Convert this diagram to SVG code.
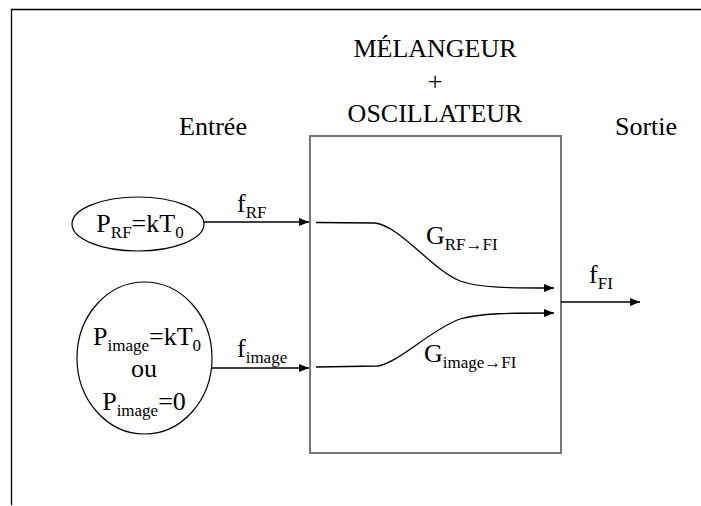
<svg xmlns="http://www.w3.org/2000/svg" width="701" height="506" viewBox="0 0 701 506">
<style>
text{font-family:"Liberation Serif","Times New Roman",serif;font-size:26px;fill:#000}
.sub{font-size:17px}
.ln{stroke:#000;stroke-width:1.3;fill:none}
.box{stroke:#777;stroke-width:2;fill:none}
.el{stroke:#000;stroke-width:1.2;fill:none}
</style>
<defs>
<marker id="ah" markerUnits="userSpaceOnUse" markerWidth="12" markerHeight="10" refX="10" refY="4" orient="auto">
<path d="M0,0 L10,4 L0,8 z" fill="#000"/>
</marker>
</defs>
<g id="frame">
<path d="M11.5,505 L11.5,9.5 L701,9.5" stroke="#000" stroke-width="1.3" fill="none"/>
</g>
<g id="titles">
<text x="435" y="57" text-anchor="middle">MÉLANGEUR</text>
<text x="435" y="90" text-anchor="middle">+</text>
<text x="435" y="122" text-anchor="middle">OSCILLATEUR</text>
<text x="213" y="135" text-anchor="middle">Entrée</text>
<text x="646" y="135" text-anchor="middle">Sortie</text>
</g>
<g id="mixer">
<rect class="box" x="310" y="136" width="251" height="317"/>
</g>
<g id="src-rf">
<ellipse class="el" cx="138" cy="224" rx="66" ry="27"/>
<text x="140" y="232" text-anchor="middle">P<tspan class="sub" dy="6">RF</tspan><tspan dy="-6">=kT</tspan><tspan class="sub" dy="6">0</tspan></text>
</g>
<g id="src-image">
<ellipse class="el" cx="144.5" cy="358" rx="67.5" ry="76"/>
<text x="147" y="345" text-anchor="middle">P<tspan class="sub" dy="6">image</tspan><tspan dy="-6">=kT</tspan><tspan class="sub" dy="6">0</tspan></text>
<text x="144" y="377" text-anchor="middle">ou</text>
<text x="144" y="410" text-anchor="middle">P<tspan class="sub" dy="6">image</tspan><tspan dy="-6">=0</tspan></text>
</g>
<g id="connectors">
<line class="ln" x1="204" y1="222" x2="309" y2="222" marker-end="url(#ah)"/>
<line class="ln" x1="212" y1="368" x2="309" y2="368" marker-end="url(#ah)"/>
<path class="ln" d="M316,222.5 L375,223 C400,226 430,268 460,281 C480,288 510,288 554,288" marker-end="url(#ah)"/>
<path class="ln" d="M316,367 L378,366 C400,362 430,330 460,319 C480,313 510,313 554,313" marker-end="url(#ah)"/>
<line class="ln" x1="561" y1="302" x2="640" y2="302" marker-end="url(#ah)"/>
</g>
<g id="labels">
<text x="237" y="212">f<tspan class="sub" dy="6">RF</tspan></text>
<text x="237" y="357">f<tspan class="sub" dy="6">image</tspan></text>
<text x="589" y="283">f<tspan class="sub" dy="6">FI</tspan></text>
<text x="426" y="244">G<tspan class="sub" dy="6">RF→FI</tspan></text>
<text x="424" y="362">G<tspan class="sub" dy="6">image→FI</tspan></text>
</g>
</svg>
